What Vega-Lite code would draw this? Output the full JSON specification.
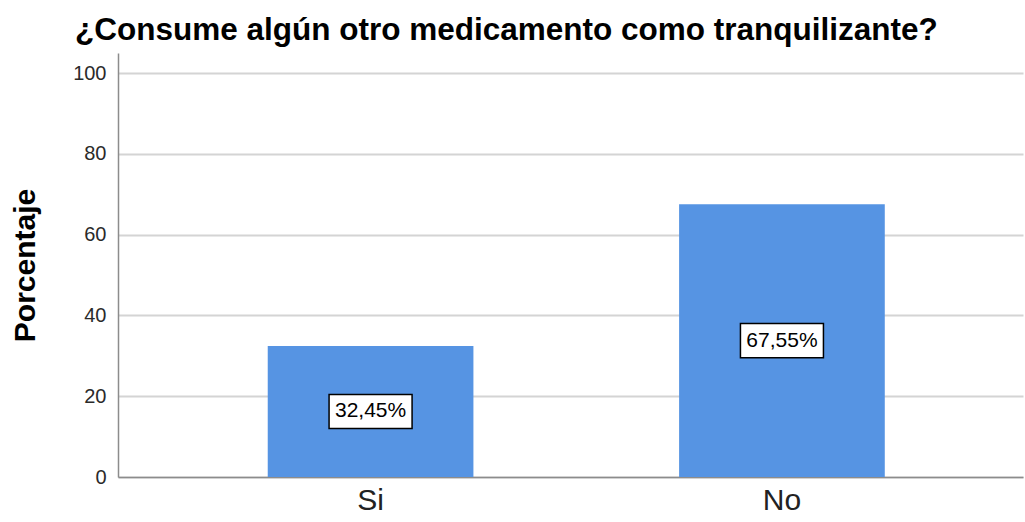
{
  "$schema": "https://vega.github.io/schema/vega-lite/v6.json",
  "width": 905,
  "height": 424,
  "autosize": {"type": "none"},
  "padding": {"left": 118, "top": 53, "right": 2, "bottom": 45},
  "background": "white",
  "title": {
    "text": "¿Consume algún otro medicamento como tranquilizante?",
    "anchor": "start",
    "frame": "group",
    "dx": -43,
    "offset": 7,
    "font": "Liberation Sans",
    "fontSize": 31.5,
    "fontWeight": "bold",
    "color": "#000000"
  },
  "config": {"view": {"stroke": null}, "font": "Liberation Sans"},
  "data": {
    "values": [
      {"respuesta": "Si", "porcentaje": 32.45, "etiqueta": "32,45%"},
      {"respuesta": "No", "porcentaje": 67.55, "etiqueta": "67,55%"}
    ]
  },
  "encoding": {
    "x": {
      "field": "respuesta",
      "type": "nominal",
      "sort": ["Si", "No"],
      "scale": {"paddingInner": 0.5, "paddingOuter": 0.35, "align": 0.52},
      "axis": {
        "title": null,
        "labelAngle": 0,
        "ticks": false,
        "grid": false,
        "domainColor": "#8c8c8c",
        "domainWidth": 1.5,
        "labelFontSize": 30,
        "labelColor": "#222222",
        "labelPadding": 8
      }
    }
  },
  "resolve": {"scale": {"y": "independent"}},
  "layer": [
    {
      "mark": {"type": "bar", "color": "#5694e3"},
      "encoding": {
        "y": {
          "field": "porcentaje",
          "type": "quantitative",
          "scale": {"domain": [0, 105], "nice": false},
          "axis": {
            "values": [0, 20, 40, 60, 80, 100],
            "grid": true,
            "gridColor": "#d4d4d4",
            "gridWidth": 2,
            "ticks": false,
            "domainColor": "#8c8c8c",
            "domainWidth": 1.5,
            "labelFontSize": 20,
            "labelColor": "#2a2a2a",
            "labelPadding": 12,
            "title": "Porcentaje",
            "titleFontSize": 30,
            "titleFontWeight": "bold",
            "titleColor": "#000000",
            "titleAngle": -90,
            "titleX": -93,
            "titleY": 212,
            "titleAlign": "center",
            "titleBaseline": "middle"
          }
        }
      }
    },
    {
      "mark": {
        "type": "point",
        "shape": "M-1,-0.41H1V0.41H-1Z",
        "size": 6889,
        "filled": true,
        "fill": "#ffffff",
        "stroke": "#000000",
        "strokeWidth": 1.5,
        "opacity": 1
      },
      "encoding": {
        "y": {"field": "porcentaje", "type": "quantitative", "scale": {"domain": [0, 210], "nice": false}, "axis": null}
      }
    },
    {
      "mark": {"type": "text", "fontSize": 21, "color": "#000000", "baseline": "middle", "align": "center"},
      "encoding": {
        "y": {"field": "porcentaje", "type": "quantitative", "scale": {"domain": [0, 210], "nice": false}, "axis": null},
        "text": {"field": "etiqueta"}
      }
    }
  ]
}
